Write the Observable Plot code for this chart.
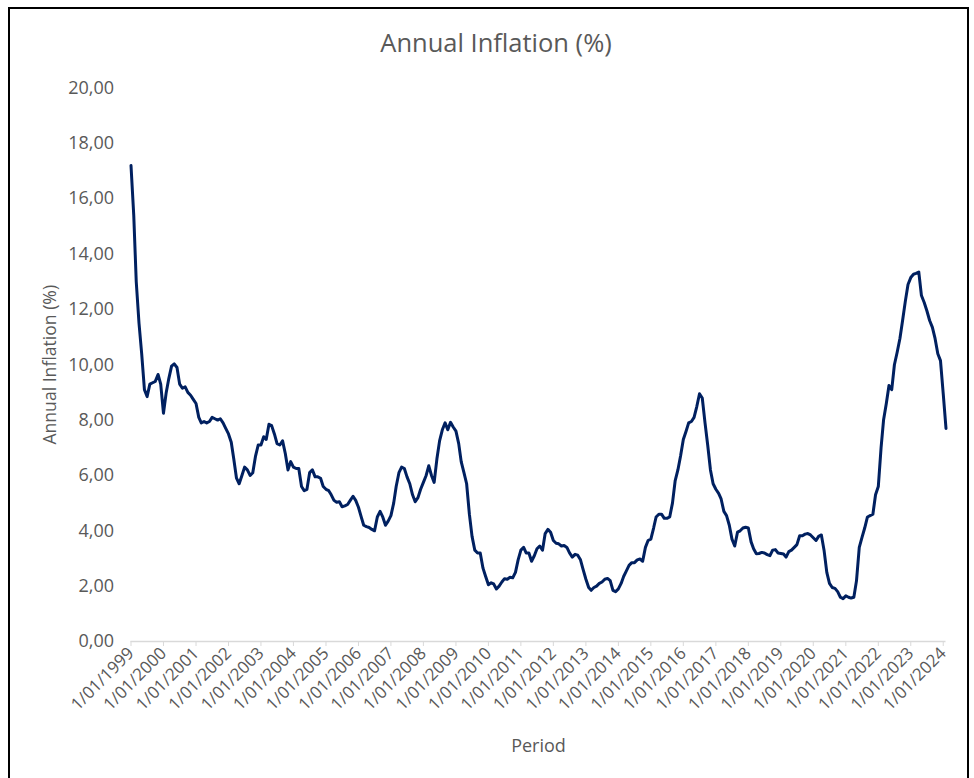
<!DOCTYPE html>
<html>
<head>
<meta charset="utf-8">
<script src="https://cdn.jsdelivr.net/npm/d3@7"></script>
<script src="https://cdn.jsdelivr.net/npm/@observablehq/plot@0.6"></script>
<style>
  html, body { margin: 0; padding: 0; background: #fff; }
  #chart {
    position: relative;
    width: 974px;
    height: 778px;
    overflow: hidden;
    font-family: "Open Sans", "Noto Sans", sans-serif;
  }
  #border {
    position: absolute;
    left: 8px; top: 7px;
    width: 961px; height: 800px;
    border: 2px solid #000;
    border-bottom: none;
    box-sizing: border-box;
  }
  #title {
    position: absolute;
    left: 0; top: 0;
    width: 992px;
    height: 70px;
    line-height: 84px;
    text-align: center;
    font-size: 25.5px;
    color: #595959;
  }
  #plot { position: absolute; left: 0; top: 70px; }
</style>
</head>
<body>
<div id="chart">
  <div id="border"></div>
  <div id="title">Annual Inflation (%)</div>
  <div id="plot"></div>
</div>
<script>
// Monthly annual inflation rate (%), January 1999 onwards
const firstMonth = new Date(Date.UTC(1999, 0, 1));
const inflation = [
  // 1999
  17.2, 15.4, 13.0, 11.5, 10.4, 9.1, 8.85, 9.3, 9.35, 9.4, 9.65, 9.3,
  // 2000
  8.25, 9.0, 9.5, 9.95, 10.03, 9.9, 9.3, 9.15, 9.2, 9.0, 8.9, 8.75,
  // 2001
  8.6, 8.1, 7.9, 7.95, 7.9, 7.95, 8.1, 8.05, 8.0, 8.05, 7.9, 7.7,
  // 2002
  7.5, 7.2, 6.6, 5.9, 5.7, 6.0, 6.3, 6.2, 6.0, 6.1, 6.7, 7.1,
  // 2003
  7.1, 7.4, 7.3, 7.85, 7.8, 7.5, 7.15, 7.1, 7.25, 6.8, 6.2, 6.5,
  // 2004
  6.3, 6.25, 6.25, 5.6, 5.45, 5.5, 6.1, 6.2, 5.95, 5.95, 5.9, 5.6,
  // 2005
  5.5, 5.45, 5.3, 5.1, 5.03, 5.05, 4.87, 4.9, 4.95, 5.1, 5.25, 5.1,
  // 2006
  4.85, 4.5, 4.2, 4.15, 4.12, 4.05, 4.0, 4.5, 4.7, 4.5, 4.2, 4.35,
  // 2007
  4.55, 5.0, 5.6, 6.1, 6.3, 6.25, 5.95, 5.7, 5.3, 5.05, 5.2, 5.5,
  // 2008
  5.75, 6.0, 6.35, 6.0, 5.75, 6.6, 7.25, 7.65, 7.9, 7.65, 7.92, 7.75,
  // 2009
  7.6, 7.15, 6.5, 6.1, 5.7, 4.6, 3.8, 3.3, 3.2, 3.2, 2.65, 2.35,
  // 2010
  2.05, 2.12, 2.08, 1.9, 2.0, 2.15, 2.27, 2.25, 2.32, 2.3, 2.5, 2.95,
  // 2011
  3.3, 3.4, 3.2, 3.2, 2.9, 3.1, 3.35, 3.45, 3.3, 3.9, 4.05, 3.95,
  // 2012
  3.65, 3.55, 3.53, 3.45, 3.47, 3.4, 3.2, 3.05, 3.15, 3.12, 2.95, 2.6,
  // 2013
  2.25, 1.95, 1.85, 1.95, 2.0, 2.1, 2.15, 2.25, 2.28, 2.2, 1.85, 1.8,
  // 2014
  1.9, 2.1, 2.35, 2.55, 2.75, 2.85, 2.85, 2.95, 2.98, 2.9, 3.4, 3.65,
  // 2015
  3.7, 4.1, 4.5, 4.6, 4.6, 4.45, 4.45, 4.5, 5.0, 5.8, 6.2, 6.7,
  // 2016
  7.3, 7.6, 7.9, 7.95, 8.1, 8.5, 8.95, 8.8, 7.9, 7.1, 6.2, 5.7,
  // 2017
  5.5, 5.35, 5.15, 4.7, 4.55, 4.2, 3.7, 3.45, 3.95, 4.0, 4.1, 4.13,
  // 2018
  4.1, 3.6, 3.35, 3.17, 3.18, 3.22, 3.2, 3.14, 3.1, 3.3, 3.32, 3.2,
  // 2019
  3.18, 3.16, 3.05, 3.25, 3.3, 3.4, 3.5, 3.82, 3.82, 3.88, 3.9, 3.85,
  // 2020
  3.75, 3.65, 3.8, 3.85, 3.3, 2.5, 2.1, 1.95, 1.92, 1.8, 1.6, 1.55,
  // 2021
  1.65, 1.6, 1.57, 1.6, 2.2, 3.4, 3.75, 4.1, 4.5, 4.55, 4.6, 5.3,
  // 2022
  5.6, 7.0, 8.0, 8.6, 9.25, 9.1, 10.0, 10.45, 10.95, 11.6, 12.3, 12.9,
  // 2023
  13.15, 13.27, 13.3, 13.35, 12.5, 12.25, 11.95, 11.6, 11.35, 10.95, 10.4, 10.15,
  // 2024
  8.95, 7.7
];

// Year labels on the period axis
const tickYears = d3.range(1999, 2025);
// Label values on the inflation axis
const yTicks = [0, 2, 4, 6, 8, 10, 12, 14, 16, 18, 20];

const series = inflation.map((value, i) => ({
  period: d3.utcMonth.offset(firstMonth, i),
  value
}));
const tickDates = tickYears.map(y => new Date(Date.UTC(y, 0, 1)));
const lastMonth = series[series.length - 1].period;

const grey = "#595959";
const axisGrey = "#d9d9d9";
const fmtPct = d => d.toFixed(2).replace(".", ",");
const fmtDate = d => `1/01/${d.getUTCFullYear()}`;

const chart = Plot.plot({
  width: 974,
  height: 708,
  marginLeft: 130.5,
  marginRight: 28.5,
  marginTop: 17.5,
  marginBottom: 137,
  style: {
    fontFamily: '"Open Sans", "Noto Sans", sans-serif',
    fontSize: "18px",
    color: grey,
    background: "transparent",
    overflow: "visible"
  },
  x: { type: "utc", domain: [firstMonth, lastMonth] },
  y: { domain: [0, 20] },
  marks: [
    Plot.axisY(yTicks, {
      tickFormat: fmtPct,
      tickSize: 0,
      tickPadding: 17,
      fill: grey,
      fontSize: 18,
      label: null
    }),
    Plot.ruleY([0], { stroke: axisGrey, strokeWidth: 1.5 }),
    Plot.axisX(tickDates, {
      tickFormat: fmtDate,
      tickRotate: -45,
      tickSize: 5,
      tickPadding: 4,
      stroke: axisGrey,
      fill: grey,
      fontSize: 17,
      label: null
    }),
    Plot.lineY(series, {
      x: "period",
      y: "value",
      stroke: "#002060",
      strokeWidth: 3,
      strokeLinejoin: "round",
      strokeLinecap: "round"
    }),
    Plot.text(["Annual Inflation (%)"], {
      text: d => d,
      frameAnchor: "left",
      textAnchor: "middle",
      rotate: -90,
      dx: -81,
      fill: grey,
      fontSize: 17.6
    }),
    Plot.text(["Period"], {
      text: d => d,
      frameAnchor: "bottom",
      dy: 110,
      fill: grey,
      fontSize: 18
    })
  ]
});

document.getElementById("plot").appendChild(chart);
</script>
</body>
</html>
